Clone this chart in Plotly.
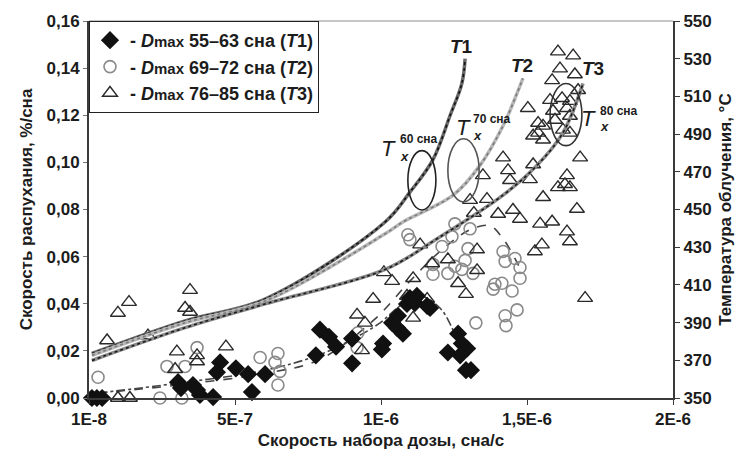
import plotly.graph_objects as go

# ---------------- data ----------------
# T1 group (filled diamonds): dose rate (dpa/s), swelling rate (%/dpa)
d1_x = [1.0e-8, 2.7e-8, 4.5e-8, 3.05e-7, 3.15e-7, 3.56e-7, 3.70e-7, 3.80e-7, 4.25e-7, 4.49e-7,
        4.38e-7, 5.03e-7, 5.45e-7, 5.58e-7, 6.03e-7, 7.77e-7, 7.91e-7, 8.22e-7, 8.46e-7, 9.01e-7,
        9.01e-7, 1.003e-6, 1.007e-6, 1.038e-6, 1.055e-6, 1.058e-6, 1.075e-6, 1.089e-6, 1.099e-6, 1.123e-6,
        1.116e-6, 1.158e-6, 1.168e-6, 1.229e-6, 1.264e-6, 1.277e-6, 1.295e-6, 1.271e-6, 1.291e-6, 1.308e-6]
d1_y = [0.0, 0.0, 0.0, 0.0067, 0.0042, 0.0055, 0.0034, 0.0013, 0.0004, 0.0151,
        0.0109, 0.0126, 0.0101, 0.0025, 0.0101, 0.0181, 0.0290, 0.0260, 0.0218, 0.0252,
        0.0147, 0.0206, 0.0231, 0.0319, 0.0298, 0.0349, 0.0273, 0.0399, 0.0424, 0.0433,
        0.0403, 0.0391, 0.0382, 0.0193, 0.0273, 0.0231, 0.0210, 0.0181, 0.0118, 0.0118]

# T2 group (open circles)
d2_x = [3.1e-8, 2.43e-7, 3.18e-7, 2.67e-7, 3.29e-7, 3.70e-7, 5.86e-7, 6.47e-7, 6.37e-7, 6.54e-7,
        6.47e-7, 9.18e-7, 9.21e-7, 1.092e-6, 1.099e-6, 1.253e-6, 1.243e-6, 1.305e-6, 1.209e-6, 1.298e-6,
        1.288e-6, 1.253e-6, 1.229e-6, 1.178e-6, 1.178e-6, 1.315e-6, 1.277e-6, 1.418e-6, 1.425e-6, 1.459e-6,
        1.476e-6, 1.476e-6, 1.390e-6, 1.414e-6, 1.449e-6, 1.384e-6, 1.466e-6, 1.425e-6, 1.325e-6, 1.428e-6]
d2_y = [0.0088, 0.0, 0.0, 0.0134, 0.0134, 0.0214, 0.0172, 0.0189, 0.0151, 0.0113,
        0.0055, 0.0214, 0.0277, 0.0693, 0.0672, 0.0739, 0.0685, 0.0718, 0.0643, 0.0634,
        0.0584, 0.0559, 0.0529, 0.0567, 0.0525, 0.0529, 0.0546, 0.0622, 0.0580, 0.0592,
        0.0554, 0.0508, 0.0483, 0.0487, 0.0454, 0.0462, 0.0374, 0.0349, 0.0319, 0.0307]

# T3 group (open triangles)
d3_x = [6.2e-8, 9.9e-8, 1.37e-7, 2.02e-7, 9.9e-8, 1.40e-7, 3.01e-7, 2.95e-7, 3.29e-7, 3.46e-7,
        3.46e-7, 3.70e-7, 3.70e-7, 4.69e-7, 9.18e-7, 9.35e-7, 9.45e-7, 9.73e-7, 1.010e-6, 1.038e-6,
        1.089e-6, 1.110e-6, 1.110e-6, 1.158e-6, 1.134e-6, 1.175e-6, 1.229e-6, 1.264e-6, 1.291e-6, 1.329e-6,
        1.329e-6, 1.318e-6, 1.305e-6, 1.363e-6, 1.349e-6, 1.401e-6, 1.452e-6, 1.476e-6, 1.418e-6, 1.435e-6,
        1.442e-6, 1.521e-6, 1.510e-6, 1.637e-6, 1.630e-6, 1.606e-6, 1.647e-6, 1.682e-6, 1.555e-6, 1.545e-6,
        1.586e-6, 1.637e-6, 1.647e-6, 1.527e-6, 1.551e-6, 1.671e-6, 1.699e-6, 1.606e-6, 1.658e-6, 1.613e-6,
        1.664e-6, 1.586e-6, 1.675e-6, 1.579e-6, 1.620e-6, 1.647e-6, 1.637e-6, 1.589e-6, 1.596e-6, 1.647e-6,
        1.623e-6, 1.647e-6, 1.555e-6, 1.538e-6, 1.538e-6, 1.521e-6, 1.555e-6, 1.503e-6]
d3_y = [0.0244, 0.0361, 0.0407, 0.0265, 0.0, 0.0, 0.0197, 0.0122, 0.0382, 0.0458,
        0.0365, 0.0181, 0.0155, 0.0218, 0.0353, 0.0202, 0.0319, 0.0420, 0.0533, 0.0496,
        0.0433, 0.0508, 0.0340, 0.0420, 0.0651, 0.0571, 0.0588, 0.0487, 0.0441, 0.0542,
        0.0630, 0.0785, 0.0840, 0.0844, 0.0945, 0.0781, 0.0798, 0.0760, 0.1020, 0.0966,
        0.0924, 0.0991, 0.0928, 0.0945, 0.0907, 0.0894, 0.0894, 0.1020, 0.0852, 0.0739,
        0.0748, 0.0706, 0.0664, 0.0622, 0.0651, 0.0802, 0.0424, 0.1470, 0.1453, 0.1398,
        0.1373, 0.1348, 0.1306, 0.1264, 0.1272, 0.1260, 0.1230, 0.1218, 0.1180, 0.1197,
        0.1138, 0.1125, 0.1155, 0.1167, 0.1125, 0.1113, 0.1096, 0.1230]

# trend lines through swelling data
fit1_x = [3.1e-8, 3.05e-7, 6.03e-7, 7.84e-7, 8.94e-7, 9.97e-7, 1.065e-6, 1.134e-6, 1.202e-6, 1.243e-6, 1.260e-6]
fit1_y = [0.0021, 0.0063, 0.0118, 0.0181, 0.0244, 0.0319, 0.0391, 0.0433, 0.0382, 0.0298, 0.0244]
fit2_x = [3.1e-8, 3.05e-7, 6.03e-7, 7.84e-7, 9.73e-7, 1.099e-6, 1.202e-6, 1.305e-6, 1.373e-6, 1.418e-6, 1.459e-6, 1.476e-6]
fit2_y = [0.0021, 0.0055, 0.0105, 0.0160, 0.0328, 0.0496, 0.0622, 0.0714, 0.0731, 0.0676, 0.0592, 0.0550]

# irradiation temperature curves (right axis, deg C)
t1_x = [1.0e-8, 3.29e-7, 6.03e-7, 1.014e-6, 1.099e-6, 1.178e-6, 1.236e-6, 1.277e-6, 1.288e-6]
t1_y = [373.6, 390.9, 402.5, 443.4, 459.2, 476.5, 499.6, 516.9, 530.0]
t2_x = [1.0e-8, 3.29e-7, 6.03e-7, 1.014e-6, 1.075e-6, 1.247e-6, 1.339e-6, 1.418e-6, 1.466e-6, 1.486e-6]
t2_y = [372.6, 389.9, 401.4, 437.1, 443.4, 457.6, 473.4, 494.4, 511.7, 519.6]
t3_x = [1.0e-8, 3.29e-7, 6.03e-7, 1.014e-6, 1.192e-6, 1.418e-6, 1.534e-6, 1.623e-6, 1.692e-6]
t3_y = [369.9, 387.3, 399.9, 418.2, 434.5, 457.6, 473.4, 490.7, 516.9]

x_tickvals = [0, 5e-7, 1e-6, 1.5e-6, 2e-6]
x_ticktext = ["1E-8", "5E-7", "1E-6", "1,5E-6", "2E-6"]
y_ticks = [0, 0.02, 0.04, 0.06, 0.08, 0.10, 0.12, 0.14, 0.16]
y2_ticks = [350, 370, 390, 410, 430, 450, 470, 490, 510, 530, 550]

legend_names = [
    "- <i>D</i><span style='font-size:15px'>max</span> 55\u201363 сна (<i>T</i>1)",
    "- <i>D</i><span style='font-size:15px'>max</span> 69\u201372 сна (<i>T</i>2)",
    "- <i>D</i><span style='font-size:15px'>max</span> 76\u201385 сна (<i>T</i>3)",
]

FONT = "Liberation Sans, Arial, sans-serif"
INK = "#1c1c1c"

fig = go.Figure()

# temperature curves: textured look = thick gray + dotted dark on top
for xs, ys, base, dots in [(t1_x, t1_y, "#6a6a6a", "#111111"),
                           (t2_x, t2_y, "#b8b8b8", "#7a7a7a"),
                           (t3_x, t3_y, "#8a8a8a", "#1a1a1a")]:
    fig.add_trace(go.Scatter(x=xs, y=ys, yaxis="y2", mode="lines", showlegend=False,
                             line=dict(color=base, width=3.5, shape="spline"), hoverinfo="skip"))
    fig.add_trace(go.Scatter(x=xs, y=ys, yaxis="y2", mode="lines", showlegend=False,
                             line=dict(color=dots, width=1.6, dash="dot", shape="spline"), hoverinfo="skip"))

# trend lines
fig.add_trace(go.Scatter(x=fit1_x, y=fit1_y, mode="lines", showlegend=False,
                         line=dict(color="#444", width=1.6, dash="dashdot", shape="spline")))
fig.add_trace(go.Scatter(x=fit2_x, y=fit2_y, mode="lines", showlegend=False,
                         line=dict(color="#444", width=1.6, dash="dash", shape="spline")))

# data
fig.add_trace(go.Scatter(x=d2_x, y=d2_y, mode="markers", name=legend_names[1], legendgroup="b",
                         legendrank=2, cliponaxis=False,
                         marker=dict(symbol="circle-open", size=12, color="#8a8a8a", line=dict(width=1.6))))
fig.add_trace(go.Scatter(x=d3_x, y=d3_y, mode="markers", name=legend_names[2], legendgroup="c",
                         legendrank=3, cliponaxis=False,
                         marker=dict(symbol="triangle-up-open", size=13, color="#2a2a2a", line=dict(width=1.4))))
fig.add_trace(go.Scatter(x=d1_x, y=d1_y, mode="markers", name=legend_names[0], legendgroup="a",
                         legendrank=1, cliponaxis=False,
                         marker=dict(symbol="diamond", size=14, color="#111111", line=dict(width=0))))

# ellipses marking T_x regions
ellipses = [(1.092e-6, 1.188e-6, 0.0798, 0.1050, "#222"),
            (1.229e-6, 1.336e-6, 0.0832, 0.1100, "#555"),
            (1.579e-6, 1.688e-6, 0.1071, 0.1335, "#333")]
for x0, x1, y0, y1, c in ellipses:
    fig.add_shape(type="circle", xref="x", yref="y", x0=x0, x1=x1, y0=y0, y1=y1,
                  line=dict(color=c, width=1.6))

# top frame line
fig.add_shape(type="line", xref="paper", yref="paper", x0=0, x1=1, y0=1, y1=1,
              line=dict(color="#8c8c8c", width=1))

ann = []
for txt, x, y in [("<i>T</i>1", 1.277e-6, 0.1491), ("<i>T</i>2", 1.483e-6, 0.1411),
                  ("<i>T</i>3", 1.726e-6, 0.1400)]:
    ann.append(dict(x=x, y=y, xref="x", yref="y", text=txt, showarrow=False,
                    font=dict(size=19, family=FONT, color=INK, weight="bold")))
for tx, sx, sy, xy, lab in [(1.024e-6, 1.058e-6, 0.1098, 0.1023, "60 сна"),
                            (1.284e-6, 1.308e-6, 0.1182, 0.1115, "70 сна"),
                            (1.712e-6, 1.743e-6, 0.1219, 0.1153, "80 сна")]:
    ty = (sy + xy) / 2
    ann.append(dict(x=tx, y=ty, xref="x", yref="y", text="<i>T</i>", showarrow=False,
                    font=dict(size=22, family=FONT, color=INK)))
    ann.append(dict(x=sx, y=sy, xref="x", yref="y", text=lab, showarrow=False, xanchor="left",
                    font=dict(size=12, family=FONT, color=INK, weight="bold")))
    ann.append(dict(x=sx, y=xy, xref="x", yref="y", text="<i>x</i>", showarrow=False, xanchor="left",
                    font=dict(size=13, family=FONT, color=INK, weight="bold")))

fig.update_layout(
    width=744, height=461,
    margin=dict(l=89, r=71, t=17, b=63),
    paper_bgcolor="white", plot_bgcolor="white",
    separators=",.",
    font=dict(family=FONT, color=INK, size=17),
    showlegend=True,
    legend=dict(x=0, y=1, xanchor="left", yanchor="top", bgcolor="white",
                bordercolor="#222", borderwidth=1, traceorder="grouped", tracegroupgap=0,
                font=dict(size=18, family=FONT, color=INK, weight="bold"), itemwidth=30),
    xaxis=dict(range=[0, 2e-6], tickvals=x_tickvals, ticktext=x_ticktext,
               showline=True, linecolor="#3a3a3a", linewidth=2, ticks="outside", ticklen=5,
               tickcolor="#3a3a3a", showgrid=False, zeroline=False,
               tickfont=dict(size=17, weight="bold"),
               title=dict(text="Скорость набора дозы, сна/с", standoff=6,
                          font=dict(size=17, weight="bold"))),
    yaxis=dict(range=[0, 0.16], tickvals=y_ticks, tickformat=".2f",
               showline=True, linecolor="#3a3a3a", linewidth=2, ticks="outside", ticklen=4,
               tickcolor="#777", showgrid=False, zeroline=False,
               tickfont=dict(size=17, weight="bold"),
               title=dict(text="Скорость распухания, %/сна", standoff=10,
                          font=dict(size=17, weight="bold"))),
    yaxis2=dict(range=[350, 550], tickvals=y2_ticks, overlaying="y", side="right",
                showline=True, linecolor="#3a3a3a", linewidth=2, ticks="outside", ticklen=5,
                tickcolor="#3a3a3a", showgrid=False, zeroline=False,
                tickfont=dict(size=17, weight="bold"),
                title=dict(text="Температура облучения, °C", standoff=8,
                           font=dict(size=17, weight="bold"))),
    annotations=ann,
)

fig.write_html("out.html")
